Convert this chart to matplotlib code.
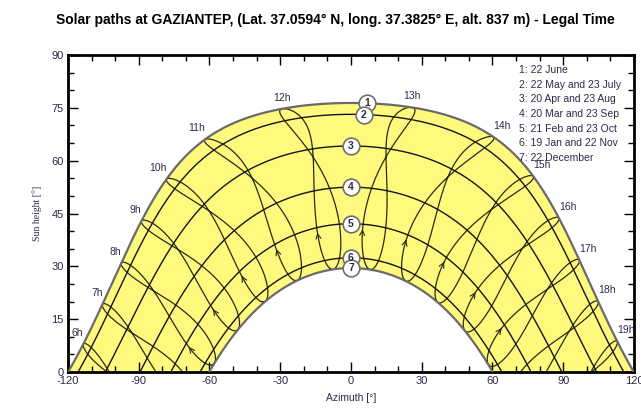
import numpy as np
import matplotlib
matplotlib.use('Agg')
import matplotlib.pyplot as plt
from matplotlib.ticker import MultipleLocator

# site (from the title)
latitude = 37.0594
longitude = 37.3825
tz_meridian = 45.0          # legal time UTC+3

# date curves: label and day of year used for the path
date_labels = ['22 June', '22 May and 23 July', '20 Apr and 23 Aug', '20 Mar and 23 Sep',
               '21 Feb and 23 Oct', '19 Jan and 22 Nov', '22 December']
date_doy = [173, 142, 110, 79, 52, 19, 356]

# legal hours that get an hour line and a label
hours = [6, 7, 8, 9, 10, 11, 12, 13, 14, 15, 16, 17, 18, 19]
hour_labels = ['6h', '7h', '8h', '9h', '10h', '11h', '12h', '13h', '14h', '15h', '16h', '17h', '18h', '19h']

txt_col = '#2b2b4a'
yellow = '#FFF97E'


def sun_pos(doy, t_legal):
    g = 2 * np.pi / 365 * (np.asarray(doy) - 1)
    dec = (0.006918 - 0.399912 * np.cos(g) + 0.070257 * np.sin(g) - 0.006758 * np.cos(2 * g)
           + 0.000907 * np.sin(2 * g) - 0.002697 * np.cos(3 * g) + 0.00148 * np.sin(3 * g))
    eot = 229.18 * (0.000075 + 0.001868 * np.cos(g) - 0.032077 * np.sin(g)
                    - 0.014615 * np.cos(2 * g) - 0.040849 * np.sin(2 * g))
    t_sol = t_legal + (longitude - tz_meridian) / 15 + eot / 60
    H = np.radians(15 * (t_sol - 12))
    phi = np.radians(latitude)
    sin_alt = np.sin(phi) * np.sin(dec) + np.cos(phi) * np.cos(dec) * np.cos(H)
    alt = np.degrees(np.arcsin(sin_alt))
    az = np.degrees(np.arctan2(np.sin(H), np.cos(H) * np.sin(phi) - np.tan(dec) * np.cos(phi)))
    return az, alt


plt.rcParams['font.family'] = ['Liberation Sans', 'DejaVu Sans']
plt.rcParams['axes.unicode_minus'] = False
fig = plt.figure(figsize=(6.41, 4.17), dpi=100)
ax = fig.add_axes([0.106, 0.108, 0.883, 0.760])

t = np.linspace(3, 22, 3000)

# yellow band between June and December paths
az_j, alt_j = sun_pos(date_doy[0], t)
az_d, alt_d = sun_pos(date_doy[-1], t)
mj, md = alt_j >= 0, alt_d >= 0
poly_x = np.concatenate([az_j[mj], az_d[md][::-1]])
poly_y = np.concatenate([alt_j[mj], alt_d[md][::-1]])
ax.fill(poly_x, poly_y, color=yellow, zorder=1, lw=0)

# hour lines (analemmas over the year)
days = np.arange(1, 367)
for h in hours:
    az, alt = sun_pos(days, np.full(days.shape, float(h)))
    alt = np.where(alt >= 0, alt, np.nan)
    ax.plot(az, alt, color='#2a2a12', lw=0.9, zorder=2)
    # direction arrow on the spring branch
    i = 44
    if alt[i] > 2 and alt[i + 3] > 2:
        ax.annotate('', xy=(az[i + 3], alt[i + 3]), xytext=(az[i], alt[i]),
                    arrowprops=dict(arrowstyle='->', color='#2a2a12', lw=0.8,
                                    mutation_scale=9), zorder=2)

# date curves
curves = []
for k, d in enumerate(date_doy):
    az, alt = sun_pos(d, t)
    m = alt >= 0
    curves.append((az[m], alt[m]))
    if k in (0, len(date_doy) - 1):
        ax.plot(az[m], alt[m], color='#6a6a6a', lw=1.6, zorder=3)
    else:
        ax.plot(az[m], alt[m], color='#151515', lw=1.0, zorder=3)

# numbered markers
label_az = [6.8, 5.5, 0, 0, 0, 0, 0]
for k, (az, alt) in enumerate(curves):
    y = np.interp(label_az[k], az, alt)
    ax.plot(label_az[k], y, 'o', ms=12, mfc='white', mec='#707070', mew=1.2, zorder=5)
    ax.text(label_az[k], y, str(k + 1), ha='center', va='center', fontsize=7.5,
            color=txt_col, fontweight='bold', zorder=6)

# hour labels next to the June path
for h, lab in zip(hours, hour_labels):
    az, alt = sun_pos(date_doy[0], float(h))
    if h <= 11:
        ha = 'right'
    elif h <= 13:
        ha = 'center'
    else:
        ha = 'left'
    col = '#3a1f5a' if h == 11 else txt_col
    ax.annotate(lab, (az, alt), xytext=(0, 8), textcoords='offset points',
                ha=ha, va='center', fontsize=7.5, color=col, zorder=6, annotation_clip=False)

# date legend text
for k, lab in enumerate(date_labels):
    ax.text(0.797, 0.953 - k * 0.0464, f'{k + 1}: {lab}', transform=ax.transAxes,
            fontsize=7.5, color=txt_col, va='center', ha='left', zorder=7)

ax.set_xlim(-120, 120)
ax.set_ylim(0, 90)
ax.xaxis.set_major_locator(MultipleLocator(30))
ax.xaxis.set_minor_locator(MultipleLocator(10))
ax.yaxis.set_major_locator(MultipleLocator(15))
ax.yaxis.set_minor_locator(MultipleLocator(5))
ax.tick_params(which='both', direction='in', top=True, right=True, width=1, colors='black',
               labelcolor=txt_col, labelsize=8, pad=3)
ax.tick_params(which='major', length=7)
ax.tick_params(which='minor', length=4)
for s in ax.spines.values():
    s.set_linewidth(2)

ax.set_xlabel('Azimuth [°]', fontsize=7.5, color=txt_col, labelpad=5)
ax.set_ylabel('Sun height [°]', fontsize=7, family='Liberation Serif', color=txt_col, labelpad=7)
fig.text(0.523, 0.952, 'Solar paths at GAZIANTEP, (Lat. 37.0594° N, long. 37.3825° E, alt. 837 m) - Legal Time',
         ha='center', va='center', fontsize=10, fontweight='bold')

fig.savefig('out.png', dpi=100)
